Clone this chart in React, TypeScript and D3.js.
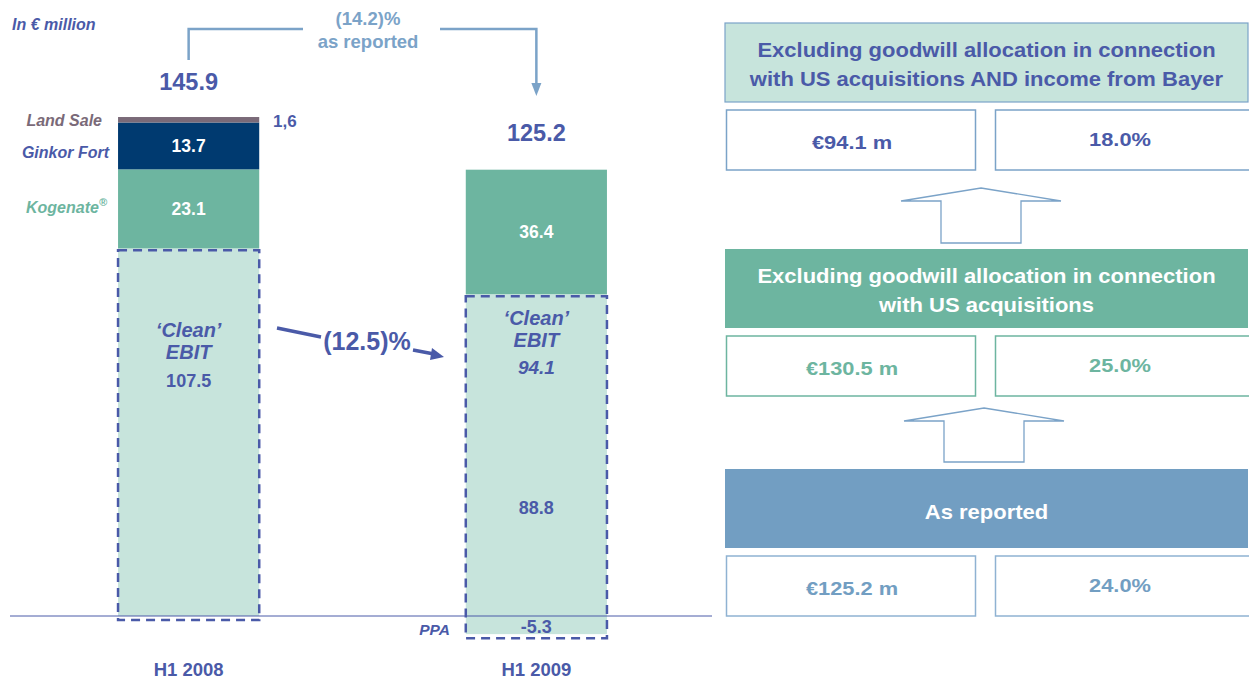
import React, { useEffect, useRef } from 'react';
import * as d3 from 'd3';

const W = 1249;
const H = 682;

// bar data (in € million)
const periods = ['H1 2008', 'H1 2009'];
const ppa = [0, -5.3];
const cleanEbit = [107.5, 94.1];
const kogenate = [23.1, 36.4];
const ginkor = [13.7, 0];
const landSale = [1.6, 0];
const reportedTotals = ['145.9', '125.2'];
const reportedBase = [null, '88.8'];

// right panel
const panelTitles = [
  ['Excluding goodwill allocation in connection', 'with US acquisitions AND income from Bayer'],
  ['Excluding goodwill allocation in connection', 'with US acquisitions'],
  ['As reported'],
];
const panelAmounts = ['€94.1 m', '€130.5 m', '€125.2 m'];
const panelMargins = ['18.0%', '25.0%', '24.0%'];

const BLUE = '#4a5aa8';
const LIGHT = '#c7e4dc';
const TEAL = '#6db5a0';
const NAVY = '#003a70';
const LAND = '#7a6a78';
const STEEL = '#729ec2';
const STEEL_LINE = '#7ba3c8';
const FONT = '"Liberation Sans", Arial, sans-serif';

const App = () => {
  const svgRef = useRef<SVGSVGElement | null>(null);

  useEffect(() => {
    if (!svgRef.current) return;
    const svg = d3.select(svgRef.current);
    svg.selectAll('*').remove();

    const x = d3.scaleBand().domain(periods).range([48.5, 676.5]).paddingInner(0.594).paddingOuter(0.2);
    const y = d3.scaleLinear().domain([0, 145.9]).range([616, 616 - 145.9 * 3.42]);

    const bw = x.bandwidth();
    const g = svg.append('g');

    // stacked segments
    periods.forEach((p, i) => {
      const x0 = x(p)!;
      const segs = [
        { y0: ppa[i], y1: cleanEbit[i], fill: LIGHT },
        { y0: cleanEbit[i], y1: cleanEbit[i] + kogenate[i], fill: TEAL },
        { y0: cleanEbit[i] + kogenate[i], y1: cleanEbit[i] + kogenate[i] + ginkor[i], fill: NAVY },
        {
          y0: cleanEbit[i] + kogenate[i] + ginkor[i],
          y1: cleanEbit[i] + kogenate[i] + ginkor[i] + landSale[i],
          fill: LAND,
        },
      ].filter(s => s.y1 > s.y0);

      g.selectAll(null)
        .data(segs)
        .enter()
        .append('rect')
        .attr('x', x0)
        .attr('width', bw)
        .attr('y', d => y(d.y1))
        .attr('height', d => y(d.y0) - y(d.y1))
        .attr('fill', d => d.fill);

      // dashed 'clean' box
      g.append('rect')
        .attr('x', x0)
        .attr('width', bw)
        .attr('y', y(cleanEbit[i]) + 2)
        .attr('height', y(ppa[i]) - y(cleanEbit[i]) + 2)
        .attr('fill', 'none')
        .attr('stroke', BLUE)
        .attr('stroke-width', 2.5)
        .attr('stroke-dasharray', '9,6');
    });

    // baseline
    g.append('line')
      .attr('x1', 10).attr('x2', 712)
      .attr('y1', y(0)).attr('y2', y(0))
      .attr('stroke', BLUE).attr('stroke-width', 1);

    const txt = (
      tx: number, ty: number, s: string, size: number, fill: string,
      opts: { anchor?: string; italic?: boolean; sx?: number } = {}
    ) =>
      g.append('text')
        .attr('transform', `translate(${tx},${ty}) scale(${opts.sx ?? 1},1)`)
        .attr('text-anchor', opts.anchor ?? 'middle')
        .attr('font-family', FONT)
        .attr('font-weight', 'bold')
        .attr('font-style', opts.italic ? 'italic' : 'normal')
        .attr('font-size', size)
        .attr('fill', fill)
        .text(s);

    const c0 = x(periods[0])! + bw / 2;
    const c1 = x(periods[1])! + bw / 2;

    // segment values
    txt(c0, (y(cleanEbit[0] + kogenate[0]) + y(cleanEbit[0] + kogenate[0] + ginkor[0])) / 2 + 6, String(ginkor[0]), 17.5, '#fff');
    txt(c0, (y(cleanEbit[0]) + y(cleanEbit[0] + kogenate[0])) / 2 + 6, String(kogenate[0]), 17.5, '#fff');
    txt(c1, y(cleanEbit[1] + kogenate[1] * 0.5) + 6, String(kogenate[1]), 17.5, '#fff');

    // clean EBIT labels
    txt(c0, 337, '‘Clean’', 20, BLUE, { italic: true });
    txt(c0, 359, 'EBIT', 20, BLUE, { italic: true });
    txt(c0, 387, String(cleanEbit[0]), 18, BLUE);
    txt(c1, 325, '‘Clean’', 20, BLUE, { italic: true });
    txt(c1, 347, 'EBIT', 20, BLUE, { italic: true });
    txt(c1, 374, String(cleanEbit[1]), 19, BLUE, { italic: true });
    txt(c1, 514, reportedBase[1]!, 18, BLUE);
    txt(c1, 633, String(ppa[1]), 18, BLUE);
    txt(450, 635, 'PPA', 15.5, BLUE, { anchor: 'end', italic: true });

    // totals
    txt(c0, 90, reportedTotals[0], 23.5, BLUE);
    txt(c1, 141, reportedTotals[1], 23.5, BLUE);
    txt(273, 127, '1,6', 17, BLUE, { anchor: 'start' });

    // legend labels on the left
    txt(102, 126, 'Land Sale', 16, LAND, { anchor: 'end', italic: true });
    txt(109, 158, 'Ginkor Fort', 16, BLUE, { anchor: 'end', italic: true });
    const kog = txt(107, 213, 'Kogenate', 16, TEAL, { anchor: 'end', italic: true });
    kog.append('tspan').attr('font-size', 11).attr('dy', -7).text('®');

    txt(12, 30, 'In € million', 16, BLUE, { anchor: 'start', italic: true });

    // x labels
    txt(c0, 676, periods[0], 18.5, BLUE);
    txt(c1, 676, periods[1], 18.5, BLUE);

    // (14.2)% bracket
    g.append('path')
      .attr('d', `M${c0},60 V29 H303 M440,29 H${c1} V86`)
      .attr('fill', 'none').attr('stroke', STEEL_LINE).attr('stroke-width', 2.5);
    g.append('path')
      .attr('d', `M${c1 - 5},83 L${c1 + 5},83 L${c1},96 Z`)
      .attr('fill', STEEL_LINE);
    txt(368, 25, '(14.2)%', 18.5, STEEL_LINE);
    txt(368, 48, 'as reported', 18.5, STEEL_LINE);

    // (12.5)% arrow
    g.append('path')
      .attr('d', 'M277,328 L321,337 M413,350 L434,354')
      .attr('fill', 'none').attr('stroke', BLUE).attr('stroke-width', 3.5);
    g.append('path')
      .attr('d', 'M432,348 L444,357 L430,360 Z')
      .attr('fill', BLUE);
    txt(367, 350, '(12.5)%', 25, BLUE);

    // right panel
    const panelTops = [23, 249, 469];
    const headFill = [LIGHT, TEAL, STEEL];
    const headText = [BLUE, '#fff', '#fff'];
    const boxStroke = [STEEL_LINE, TEAL, '#8fb2d2'];
    const valColor = [BLUE, TEAL, STEEL];
    const px = 725;
    const pw = W - px - 1;

    panelTops.forEach((t, i) => {
      g.append('rect')
        .attr('x', px).attr('y', t).attr('width', pw).attr('height', 79)
        .attr('fill', headFill[i]).attr('stroke', i === 0 ? STEEL_LINE : 'none').attr('stroke-width', 1.2);
      const lines = panelTitles[i];
      lines.forEach((l, k) => {
        const ly = lines.length === 1 ? t + 50 : t + 34 + k * 28.5;
        txt(px + pw / 2, ly, l, 20, headText[i], { sx: 1.1 });
      });

      const bt = t + 87;
      g.append('rect')
        .attr('x', 726.5).attr('y', bt).attr('width', 249).attr('height', 60)
        .attr('fill', '#fff').attr('stroke', boxStroke[i]).attr('stroke-width', 1.5);
      g.append('rect')
        .attr('x', 995.5).attr('y', bt).attr('width', 260).attr('height', 60)
        .attr('fill', '#fff').attr('stroke', boxStroke[i]).attr('stroke-width', 1.5);
      txt(852, bt + 39, panelAmounts[i], 18.5, valColor[i], { sx: 1.18 });
      txt(1120, bt + 36, panelMargins[i], 18.5, valColor[i], { sx: 1.18 });
    });

    // hollow up arrows between panels
    [[981, 188, 243], [984, 408, 462]].forEach(([cx, tip, bottom]) => {
      const wy = tip + 13;
      g.append('path')
        .attr('d', `M${cx},${tip} L${cx + 80},${wy} H${cx + 40} V${bottom} H${cx - 40} V${wy} H${cx - 80} Z`)
        .attr('fill', '#fff').attr('stroke', STEEL_LINE).attr('stroke-width', 1.3);
    });
  }, []);

  return (
    <div style={{ position: 'absolute', left: 0, top: 0 }}>
      <svg ref={svgRef} width={W} height={H} style={{ display: 'block', background: '#fff' }} />
    </div>
  );
};

export default App;
